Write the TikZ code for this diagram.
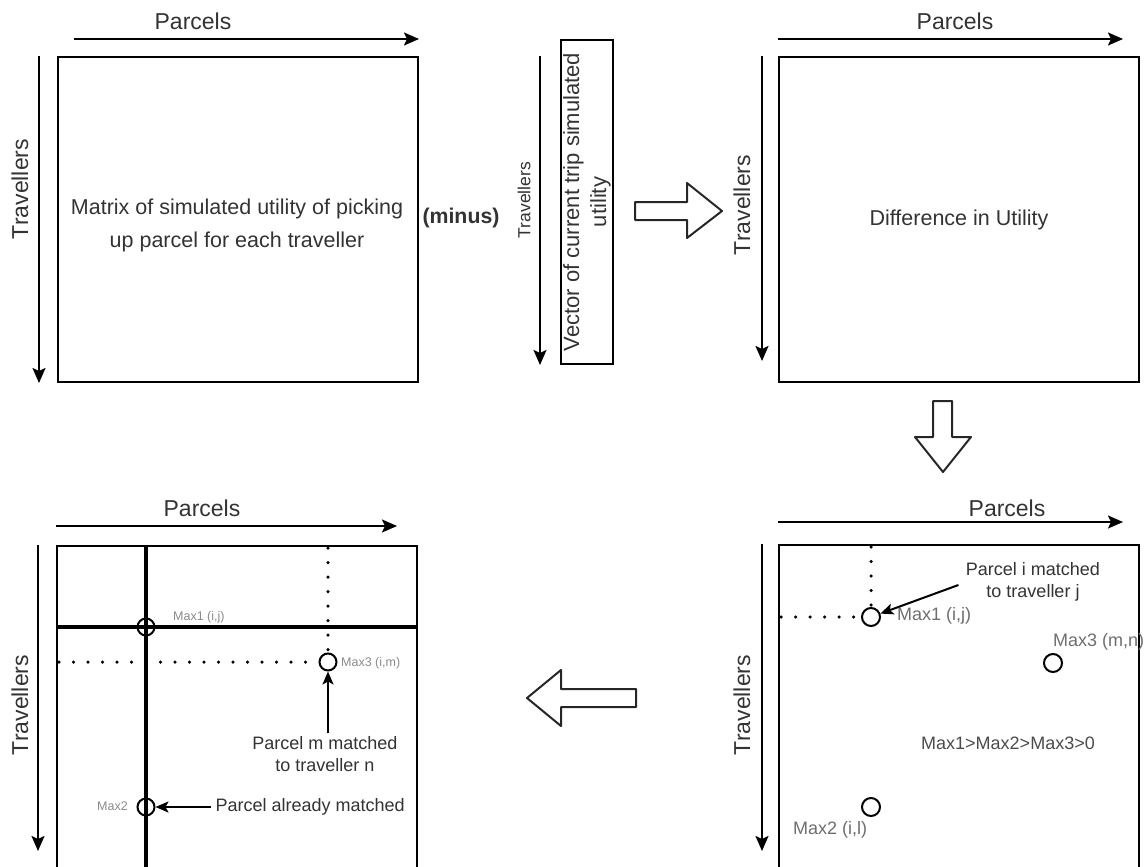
\documentclass[tikz,border=0pt]{standalone}
\usepackage{fontspec}
\setmainfont{Liberation Sans}
\usetikzlibrary{arrows.meta,calc,positioning}
\definecolor{txt}{HTML}{333333}
\definecolor{soft}{HTML}{6E6E6E}
\definecolor{faint}{HTML}{8A8A8A}

\begin{document}
\begin{tikzpicture}[x=1pt, y=-1pt,
  mat/.style = {draw, line width=2pt, minimum width=360pt, minimum height=325pt,
    inner sep=0pt, align=center, text=txt, font=\fontsize{21.5}{33}\selectfont},
  ax/.style = {line width=2pt, -{Stealth[length=15pt,width=13pt,inset=3pt]}},
  pointer/.style = {line width=2pt, -{Stealth[length=13pt,width=11pt,inset=3pt]}},
  lab/.style = {text=txt, font=\fontsize{23}{27}\selectfont},
  note/.style = {text=txt, align=center, font=\fontsize{18}{21.5}\selectfont},
  maxlab/.style = {text=soft, inner sep=0pt, font=\fontsize{18}{21}\selectfont},
  tinylab/.style = {text=faint, inner sep=0pt, font=\fontsize{12.5}{15}\selectfont},
  spot/.style = {circle, draw, line width=2pt, minimum size=18pt, inner sep=0pt},
  dots/.style = {line width=3.5pt, line cap=round, dash pattern=on 0pt off 14.5pt},
  heavy/.style = {line width=4.5pt},
  block/.style = {line width=2pt, line join=round, draw=black!85}
]
\path[use as bounding box, clip] (0,0) rectangle (1144,867);

% top left: simulated utility
\node[mat] (simu) at (238,219.5) {};
\node[align=center, text=txt, font=\fontsize{21.5}{33}\selectfont] (simuX) at (237,225) {Matrix of simulated utility of picking\\up parcel for each traveller};
\draw[ax] ([xshift=17pt, yshift=17pt]simu.north west) -- ([yshift=17pt]simu.north east);
\node[lab] (simuP) at (193,21) {Parcels};
\draw[ax] ([xshift=-18pt]simu.north west) -- ([xshift=-18pt]simu.south west);
\node[lab, rotate=90] (simuT) at (20,189) {Travellers};

\node[text=txt, font=\fontsize{21.3}{25}\bfseries] (minus) at (461,218) {(minus)};

% vector of current utility
\node[draw, line width=2pt, minimum width=52pt, minimum height=324pt, inner sep=0pt] (vec) at (587,202) {};
\node[rotate=90, align=center, text=txt, font=\fontsize{22}{27}\selectfont] (vecT) at (vec.center) {Vector of current trip simulated\\utility};
\draw[ax] ([xshift=-20pt, yshift=-17pt]vec.north west) -- ([xshift=-20pt]vec.south west);
\node[rotate=90, text=txt, font=\fontsize{17.5}{21}\selectfont] (vecL) at (524,200) {Travellers};

\draw[block] (635,202) -- (687,202) -- (687,183) -- (722,211) -- (687,238) -- (687,220) -- (635,220) -- cycle;

% top right: difference
\node[mat] (diff) at (959,219.5) {Difference in Utility};
\draw[ax] ([yshift=17pt]diff.north west) -- ([xshift=-17pt, yshift=17pt]diff.north east);
\node[lab] (diffP) at (955,21) {Parcels};
\draw[ax] ([xshift=-16pt]diff.north west) -- ([xshift=-16pt, yshift=22pt]diff.south west);
\node[lab, rotate=90] (diffT) at (742,205) {Travellers};

\draw[block] (933,401) -- (952,401) -- (952,437) -- (971,437) -- (943,472) -- (915,437) -- (933,437) -- cycle;

% bottom right: maxima
\node[mat] (pick) at (959,707.5) {};
\draw[ax] ([yshift=22pt]pick.north west) -- ([xshift=-17pt, yshift=22pt]pick.north east);
\node[lab] (pickP) at (1007,508) {Parcels};
\draw[ax] ([xshift=-16pt]pick.north west) -- ([xshift=-16pt, yshift=20pt]pick.south west);
\node[lab, rotate=90] (pickT) at (742,705) {Travellers};

\node[spot] (b1) at (871,617) {};
\node[spot] (b2) at (871,807) {};
\node[spot] (b3) at (1053,663) {};
\draw[dots] ([yshift=-3pt]b1 |- pick.north) -- (b1.north);
\draw[dots] ([xshift=3pt]pick.west |- b1) -- (b1.west);
\node[maxlab, anchor=west] (b1L) at (897,616) {Max1 (i,j)};
\node[maxlab, anchor=west] (b3L) at (1053,642) {Max3 (m,n)};
\node[maxlab, anchor=west] (b2L) at (793,830) {Max2 (i,l)};
\node[text=black!70, font=\fontsize{18}{21}\selectfont] (order) at (1008,743) {Max1>Max2>Max3>0};
\node[note] (pij) at (1033,582) {Parcel i matched\\to traveller j};
\draw[pointer] ([xshift=-4pt, yshift=-3pt]pij.west) -- (b1);

\draw[block] (636,689) -- (561,689) -- (561,670) -- (527,698) -- (561,726) -- (561,707) -- (636,707) -- cycle;

% bottom left: matching
\node[mat] (match) at (237,708.5) {};
\draw[ax] ([yshift=19pt]match.north west) -- ([xshift=-21pt, yshift=19pt]match.north east);
\node[lab] (matchP) at (202,508) {Parcels};
\draw[ax] ([xshift=-18pt]match.north west) -- ([xshift=-18pt, yshift=21pt]match.south west);
\node[lab, rotate=90] (matchT) at (20,705) {Travellers};

\node[spot, minimum size=17pt] (a1) at (146,627) {};
\node[spot, minimum size=17pt] (a2) at (146,807) {};
\node[spot, minimum size=17pt] (a3) at (328,662) {};
\draw[heavy] (a1 |- match.north) -- (a1 |- match.south);
\draw[heavy] (match.west |- a1) -- (match.east |- a1);
\draw[dots] ([yshift=-3pt]a3 |- match.north) -- (a3.north);
\draw[dots] ([xshift=3pt]match.west |- a3) -- (a3.west);
\node[tinylab, anchor=west] (a1L) at (173,617) {Max1 (i,j)};
\node[tinylab, anchor=west] (a3L) at (341,663) {Max3 (i,m)};
\node[tinylab, anchor=east] (a2L) at (128,806) {Max2};
\node[note] (pmn) at (325,754) {Parcel m matched\\to traveller n};
\draw[pointer] (pmn.north -| a3) -- (a3);
\node[note, anchor=west] (pam) at (212,807) {Parcel already matched};
\draw[pointer] ([xshift=-1pt]pam.west) -- (a2);
\end{tikzpicture}
\end{document}
